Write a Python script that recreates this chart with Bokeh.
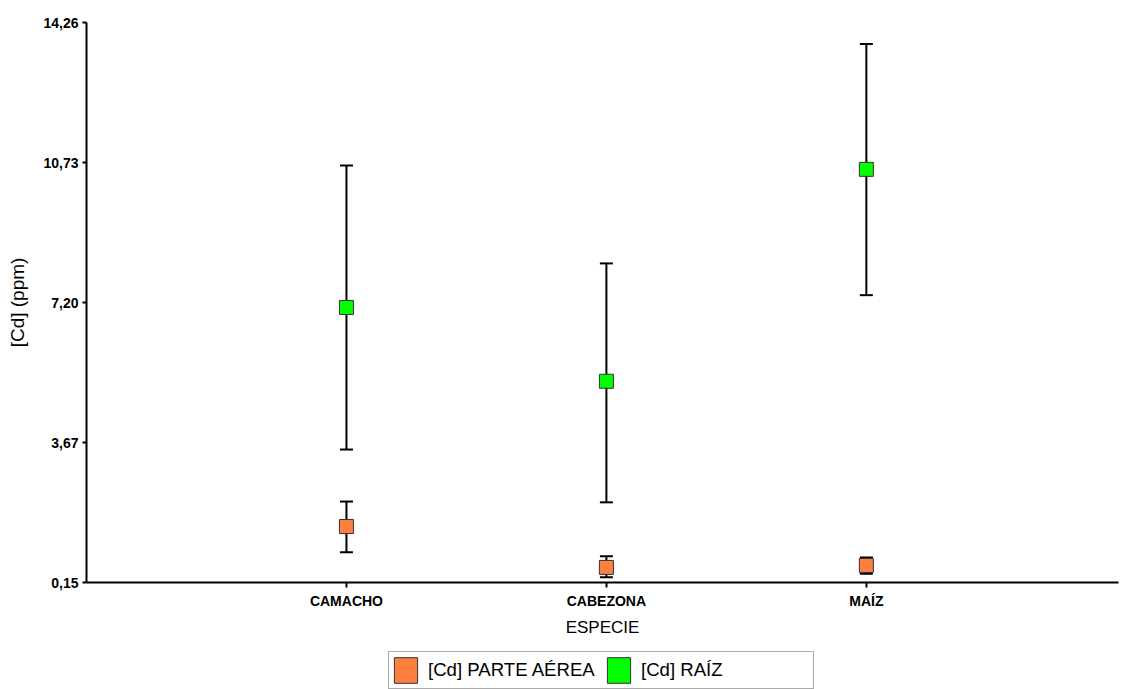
from bokeh.plotting import figure
from bokeh.layouts import column
from bokeh.models import (ColumnDataSource, Range1d, FixedTicker, CustomJSTickFormatter,
                          Whisker, TeeHead, Legend, LegendItem)
from bokeh.embed import file_html
from bokeh.resources import INLINE

# ---- data ----
categories = ["CAMACHO", "CABEZONA", "MAÍZ"]
x_pos = [1, 2, 3]
aerea_mean = [1.56, 0.53, 0.58]
aerea_upper = [2.19, 0.81, 0.78]
aerea_lower = [0.91, 0.28, 0.37]
raiz_mean = [7.08, 5.22, 10.56]
raiz_upper = [10.66, 8.19, 13.72]
raiz_lower = [3.50, 2.17, 7.39]
y_ticks = [0.15, 3.67, 7.20, 10.73, 14.26]
series_labels = ["[Cd] PARTE AÉREA", "[Cd] RAÍZ"]

FONT = "Liberation Sans"
ORANGE = "#FF7F3F"
GREEN = "#00FF00"

p = figure(width=1120, height=650, output_backend="svg", toolbar_location=None,
           x_range=Range1d(0, 3.97), y_range=Range1d(y_ticks[0], y_ticks[-1]),
           min_border_left=86, min_border_right=2, min_border_top=22, min_border_bottom=68)
p.outline_line_color = None
p.xgrid.visible = False
p.ygrid.visible = False
p.background_fill_color = "white"

src_a = ColumnDataSource(dict(x=x_pos, y=aerea_mean, up=aerea_upper, lo=aerea_lower))
src_r = ColumnDataSource(dict(x=x_pos, y=raiz_mean, up=raiz_upper, lo=raiz_lower))

for src in (src_a, src_r):
    w = Whisker(base="x", upper="up", lower="lo", source=src, dimension="height",
                line_color="black", line_width=2,
                upper_head=TeeHead(size=13, line_width=2, line_color="black"),
                lower_head=TeeHead(size=13, line_width=2, line_color="black"))
    p.add_layout(w)

p.scatter("x", "y", source=src_a, marker="square", size=14,
          fill_color=ORANGE, line_color="#333333", line_width=1)
p.scatter("x", "y", source=src_r, marker="square", size=14,
          fill_color=GREEN, line_color="#333333", line_width=1)

# axes
xa = p.xaxis[0]
xa.ticker = FixedTicker(ticks=x_pos)
xa.major_label_overrides = {x: c for x, c in zip(x_pos, categories)}
xa.minor_tick_line_color = None
xa.major_tick_in = 0
xa.major_tick_out = 5
xa.major_tick_line_width = 2
xa.axis_line_width = 2
xa.major_label_text_font = FONT
xa.major_label_text_font_style = "bold"
xa.major_label_text_font_size = "14px"
xa.major_label_text_color = "black"
xa.major_label_standoff = 5
xa.axis_label = "ESPECIE"
xa.axis_label_text_font = FONT
xa.axis_label_text_font_style = "normal"
xa.axis_label_text_font_size = "17px"
xa.axis_label_text_color = "black"
xa.axis_label_standoff = 6

ya = p.yaxis[0]
ya.ticker = FixedTicker(ticks=y_ticks)
ya.formatter = CustomJSTickFormatter(code="return tick.toFixed(2).replace('.', ',');")
ya.minor_tick_line_color = None
ya.major_tick_in = 0
ya.major_tick_out = 4
ya.major_tick_line_width = 2
ya.axis_line_width = 2
ya.major_label_text_font = FONT
ya.major_label_text_font_style = "bold"
ya.major_label_text_font_size = "14px"
ya.major_label_text_color = "black"
ya.major_label_standoff = 4
ya.axis_label = "[Cd] (ppm)"
ya.axis_label_text_font = FONT
ya.axis_label_text_font_style = "normal"
ya.axis_label_text_font_size = "19px"
ya.axis_label_text_color = "black"
ya.axis_label_standoff = 12

# ---- legend strip below the chart ----
lf = figure(width=1120, height=39, output_backend="svg", toolbar_location=None,
            x_range=Range1d(0, 1), y_range=Range1d(0, 1),
            x_axis_location=None, y_axis_location=None,
            min_border_left=0, min_border_right=0, min_border_top=0, min_border_bottom=0)
lf.grid.visible = False
lf.outline_line_color = None
# swatch renderers (kept outside the visible range; only used by the legend)
l_a = lf.quad(left=[5], right=[6], top=[6], bottom=[5], fill_color=ORANGE, line_color="#333333")
l_r = lf.quad(left=[5], right=[6], top=[6], bottom=[5], fill_color=GREEN, line_color="#333333")
legend = Legend(items=[LegendItem(label=series_labels[0], renderers=[l_a]),
                       LegendItem(label=series_labels[1], renderers=[l_r])],
                orientation="horizontal", location=(302, 0),
                glyph_width=29, glyph_height=32, label_width=170, label_standoff=8,
                spacing=6, padding=2, margin=0,
                label_text_font=FONT, label_text_font_size="18.6px", label_text_color="black",
                border_line_color="#555555", border_line_width=1,
                background_fill_color="white", background_fill_alpha=1)
lf.add_layout(legend, "center")

layout = column(p, lf, spacing=0)
open("out.html", "w").write(file_html(layout, INLINE))
